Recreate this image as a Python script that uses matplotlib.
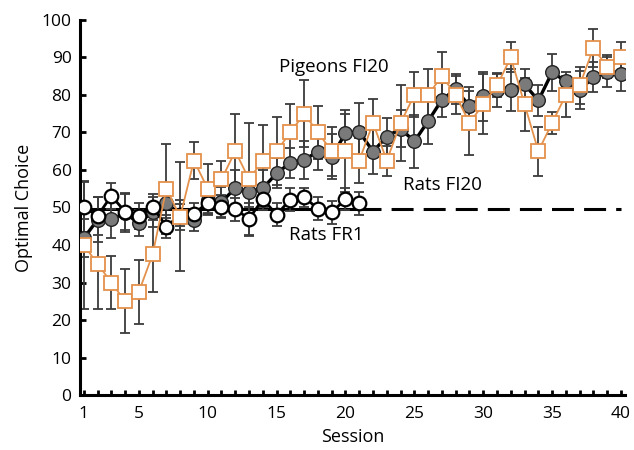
"""
Optimal choice by session: pigeons FI20, rats FI20 and rats FR1.
"""
import matplotlib.pyplot as plt
import numpy as np

plt.rcParams["font.family"] = ["Open Sans", "DejaVu Sans"]

sessions = np.arange(1, 41)

pigeons_fi20 = [40, 35, 30, 25, 27.5, 37.5, 55, 47.5, 62.5, 55,
                57.5, 65, 57.5, 62.5, 65, 70, 75, 70, 65, 65,
                62.5, 72.5, 62.5, 72.5, 80, 80, 85, 80, 72.5, 77.5,
                82.5, 90, 77.5, 65, 72.5, 80, 82.5, 92.5, 87.5, 90]
pigeons_fi20_err = [17, 12, 7, 8.5, 8.5, 10, 12, 14.5, 5, 6.5,
                    5, 10, 15, 9.5, 9, 7.5, 9, 7, 6.5, 11,
                    6, 6.5, 4, 10, 6, 7, 6.5, 5, 8.5, 8,
                    3, 4, 7, 6.5, 3, 6, 5, 5, 3, 4]

rats_fi20 = [41.8, 46.7, 46.8, 48.5, 45.8, 48.9, 51.3, 48, 46.6, 52,
             51.5, 55.1, 54.2, 55.1, 59.1, 61.9, 62.7, 64.9, 63.5, 69.8,
             70.2, 64.9, 68.9, 71, 67.6, 73, 78.7, 81.5, 77, 79.6,
             81.2, 81.3, 82.8, 78.5, 86, 83.6, 81.3, 84.7, 86.2, 85.6]
rats_fi20_err = [5, 6, 5, 5, 3.5, 4, 4, 4, 3, 4,
                 4, 5, 4, 5, 4, 4, 5, 5, 6, 5,
                 7.5, 6, 5, 5, 7, 6, 4.5, 4, 5, 6.5,
                 4.5, 5.5, 4, 4, 5, 1.5, 5, 4, 4, 4.5]

rats_fr1 = [50.2, 47.7, 53.1, 48.9, 47.7, 50.2, 44.9, 48, 48.3, 51.3,
            50.2, 49.5, 47, 52.2, 48.1, 52.1, 52.7, 49.7, 48.7, 52.2, 51.1]
rats_fr1_err = [6.7, 5, 3.5, 5, 3.5, 3.5, 3, 3, 3, 3,
                3, 3, 4.3, 3, 3, 3, 2.5, 3, 3, 3, 3]
fr1_sessions = sessions[: len(rats_fr1)]

x_tick_labels = ["1" if s == 1 else (str(s) if s % 5 == 0 else "") for s in sessions]
y_ticks = np.arange(0, 101, 10)

orange = "#e4914c"
ebar = "#3c3c3c"

fig = plt.figure(figsize=(6.34, 4.5), dpi=100)
ax = fig.add_axes([0.126, 0.122, 0.86, 0.834])

# FR1 mean level: solid over the FR1 sessions, dashed beyond
fr1_mean = np.mean(rats_fr1)
ax.plot([fr1_sessions[0], fr1_sessions[-1]], [fr1_mean] * 2, color="black", lw=2.2, zorder=1)
ax.plot([fr1_sessions[-1], sessions[-1]], [fr1_mean] * 2, color="black", lw=2.2,
        dashes=(7.2, 3.3), zorder=1)

ekw = dict(ecolor=ebar, elinewidth=1.3, capsize=3.5, capthick=1.3)
ax.errorbar(sessions, rats_fi20, yerr=rats_fi20_err, fmt="none", zorder=2, **ekw)
ax.errorbar(fr1_sessions, rats_fr1, yerr=rats_fr1_err, fmt="none", zorder=2, **ekw)
ax.errorbar(sessions, pigeons_fi20, yerr=pigeons_fi20_err, fmt="none", zorder=2, **ekw)

ax.plot(sessions, rats_fi20, color="black", lw=2.4, marker="o", ms=9.8,
        mfc="#7a7a7a", mec="#222222", mew=1.0, zorder=3)
ax.plot(fr1_sessions, rats_fr1, color="black", lw=2.0, marker="o", ms=9.8,
        mfc="white", mec="black", mew=1.6, zorder=4)
ax.plot(sessions, pigeons_fi20, color=orange, lw=1.3, marker="s", ms=10,
        mfc="white", mec=orange, mew=1.3, zorder=5)

ax.text(15.2, 87.5, "Pigeons FI20", fontsize=13.5, va="center", ha="left")
ax.text(24.2, 56, "Rats FI20", fontsize=13.5, va="center", ha="left")
ax.text(15.9, 42.7, "Rats FR1", fontsize=13.5, va="center", ha="left")

ax.set_xlim(0.72, 40.3)
ax.set_ylim(0, 100)
ax.set_xticks(sessions)
ax.set_xticklabels(x_tick_labels)
ax.set_yticks(y_ticks)
ax.tick_params(axis="both", direction="in", width=2, labelsize=12.5, color="black")
ax.tick_params(axis="x", length=3.8, pad=8)
ax.tick_params(axis="y", length=4.5, pad=6)

for side in ["top", "right"]:
    ax.spines[side].set_visible(False)
for side in ["left", "bottom"]:
    ax.spines[side].set_linewidth(2.2)

ax.set_xlabel("Session", fontsize=13, labelpad=4)
ax.set_ylabel("Optimal Choice", fontsize=13, labelpad=6)

fig.savefig("out.png", dpi=100)
